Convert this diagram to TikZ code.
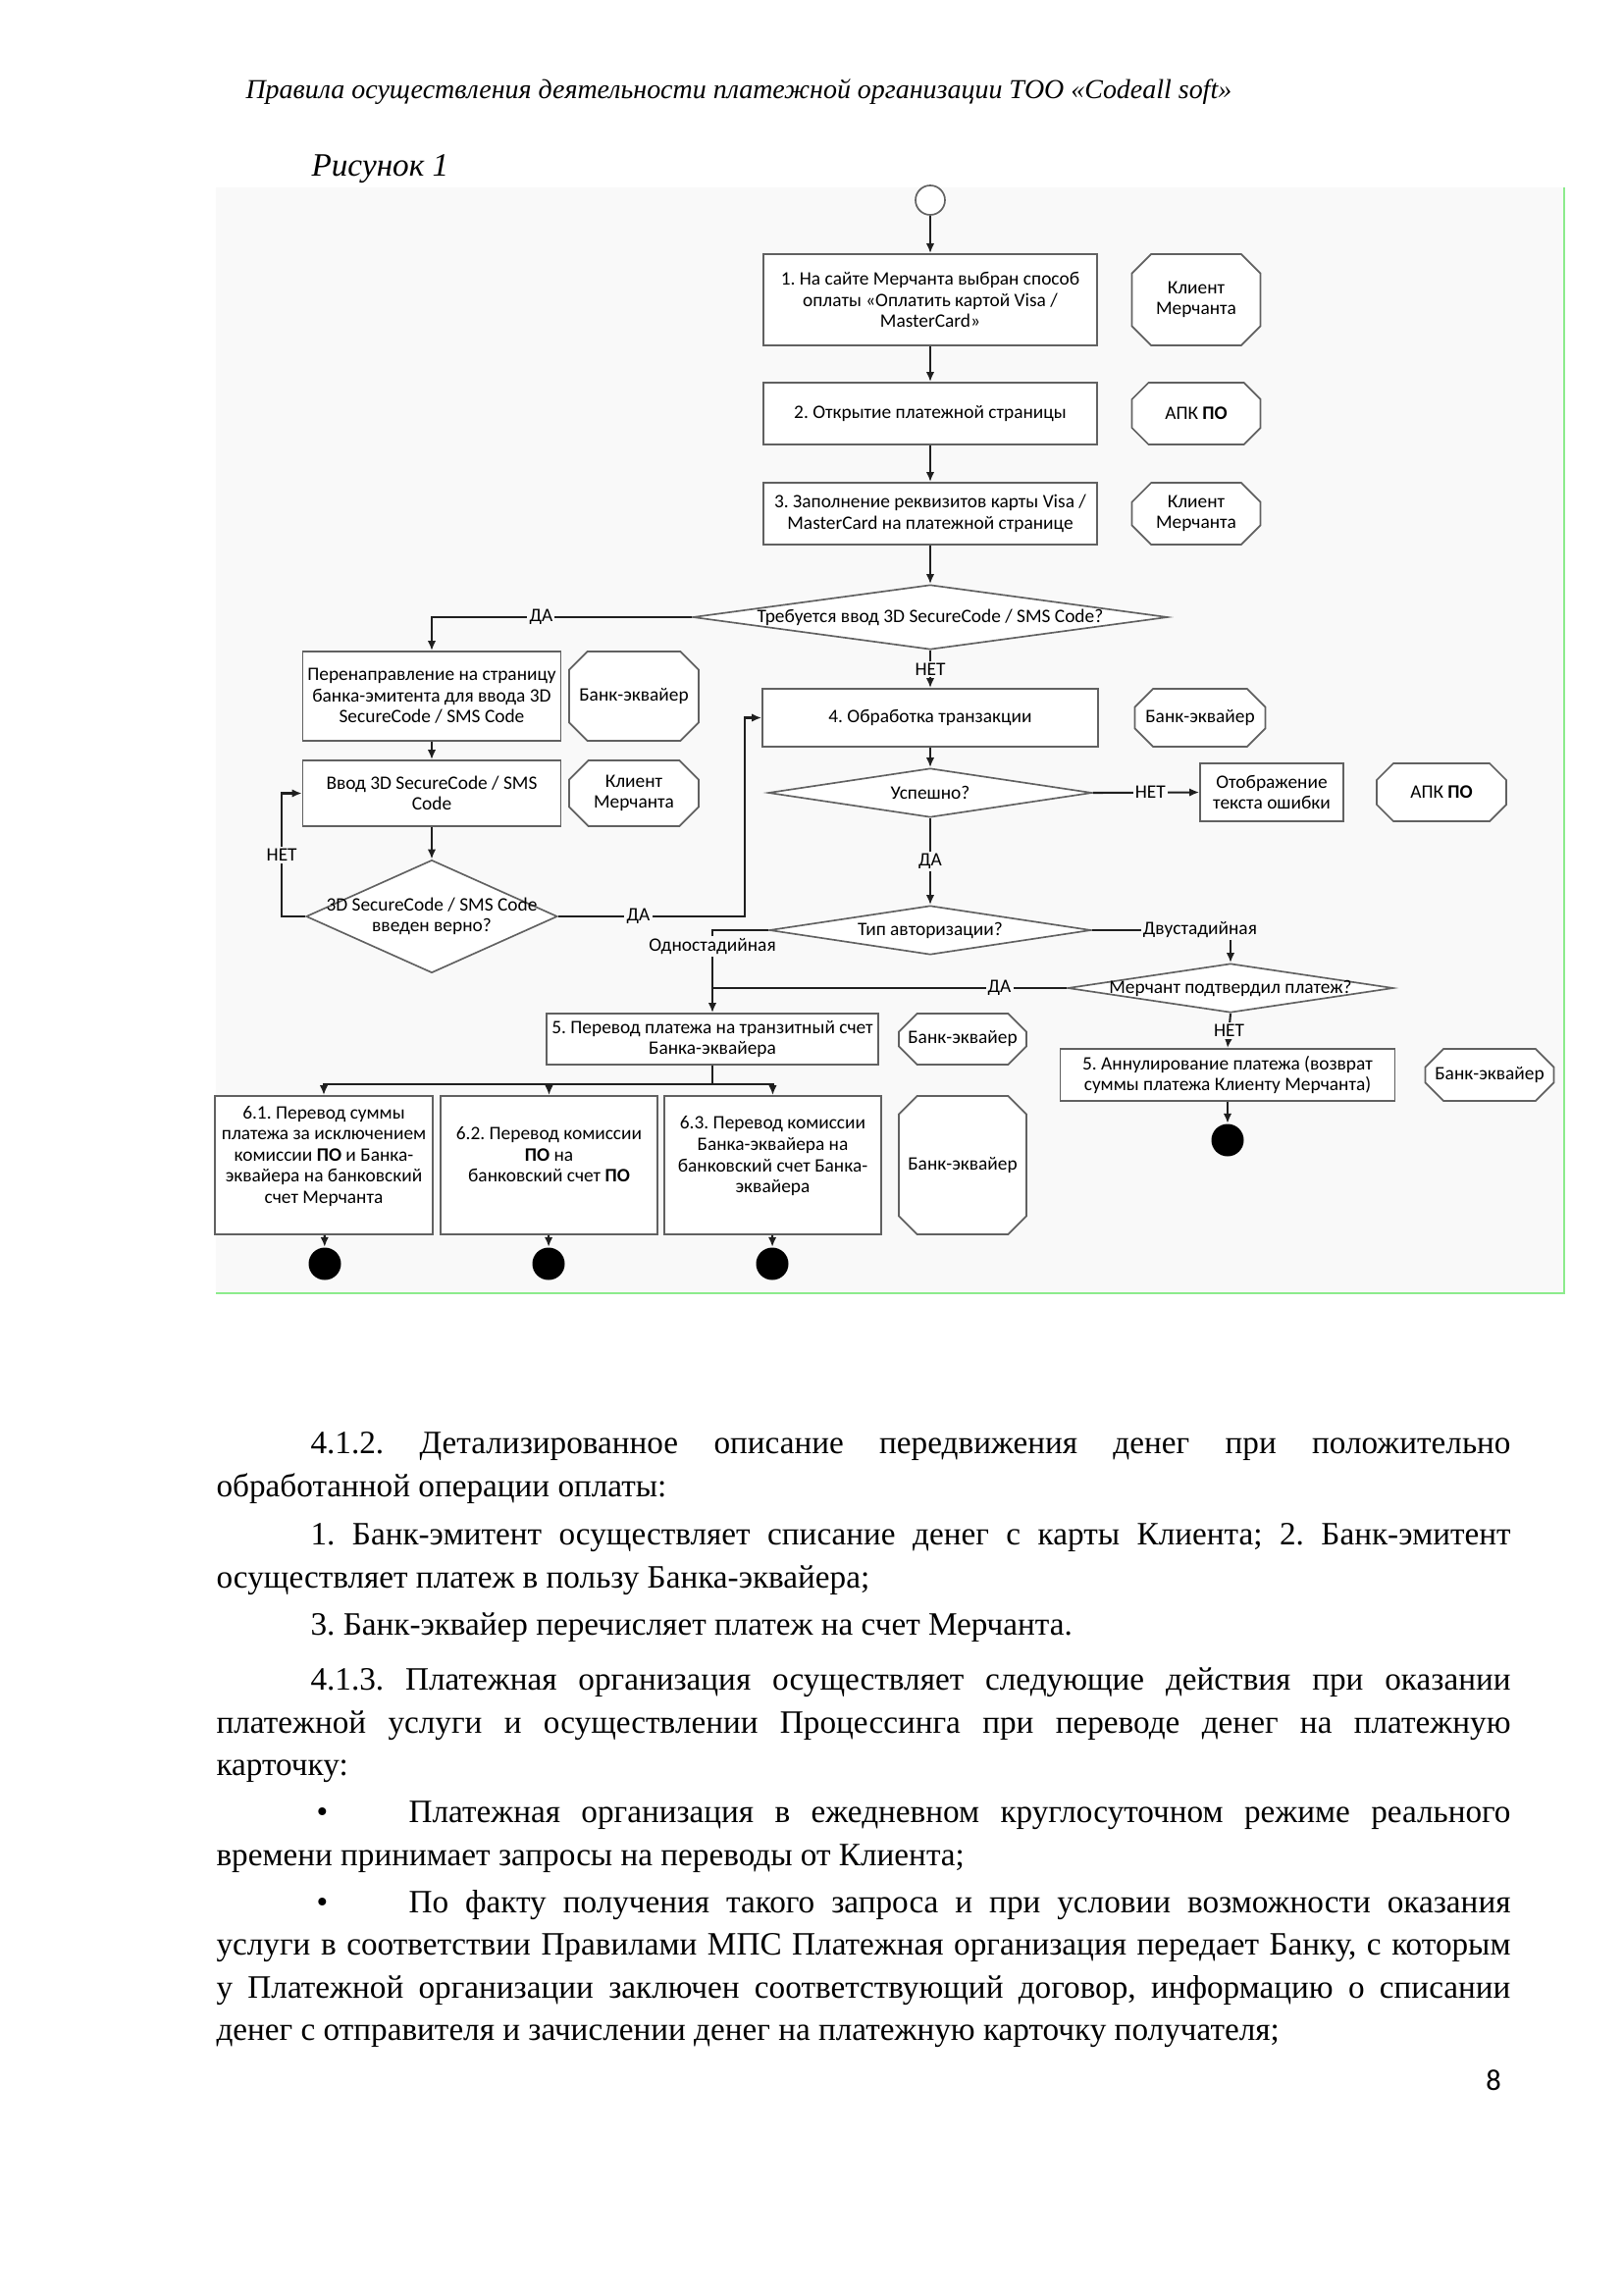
\documentclass[tikz,border=0pt]{standalone}
\usepackage{fontspec}
\setmainfont{Liberation Serif}
\newfontfamily\diagfont{Carlito}
\usetikzlibrary{arrows.meta,shapes.geometric,shapes.misc}
\definecolor{LineClr}{rgb}{0.12,0.12,0.12}
\definecolor{BoxClr}{rgb}{0.38,0.38,0.38}
\definecolor{DiagBg}{rgb}{0.975,0.975,0.975}
\definecolor{EdgeClr}{rgb}{0.55,0.92,0.55}
\newlength{\pxu}
\setlength{\pxu}{0.12697mm}
\frenchspacing

\begin{document}
\begin{tikzpicture}[x=0.12697mm,y=-0.12697mm,
  dtext/.style={font=\diagfont\fontsize{7}{7.8}\selectfont,align=center},
  stepbox/.style={rectangle,draw=BoxClr,line width=0.6pt,fill=white,dtext,inner sep=0pt},
  role/.style={chamfered rectangle,chamfered rectangle xsep=3.3pt,chamfered rectangle ysep=3.8pt,
    draw=BoxClr,line width=0.6pt,fill=white,dtext,inner sep=0pt},
  decide/.style={diamond,draw=BoxClr,line width=0.6pt,fill=white,inner sep=0pt},
  qtext/.style={dtext,inner sep=0pt},
  flow/.style={draw=LineClr,line width=0.75pt,-{Latex[length=3.6pt,width=3pt]}},
  link/.style={draw=LineClr,line width=0.75pt},
  lbl/.style={dtext,fill=DiagBg,inner sep=0.8pt},
  bodyline/.style={anchor=base west,inner sep=0pt,font=\fontsize{12}{14}\selectfont},
  finish/.style={circle,fill=black,inner sep=0pt,minimum size=33*\pxu}]

\useasboundingbox (0,0) rectangle (1654,2339);

% Page head and caption.
\node[bodyline,font=\itshape\fontsize{10.1}{12}\selectfont] (head) at (250,101)
  {Правила осуществления деятельности платежной организации ТОО «Codeall soft»};
\node[bodyline,font=\itshape\fontsize{12}{14}\selectfont] (caption) at (317,180) {Рисунок 1};

% Background of the figure.
\fill[DiagBg] (220,191) rectangle (1594,1318);
\draw[EdgeClr,line width=0.8pt] (1594,191) -- (1594,1318) -- (220,1318);

% Main column.
\node[circle,draw=BoxClr,line width=0.6pt,fill=white,minimum size=30*\pxu,inner sep=0pt] (start) at (948,204) {};
\node[stepbox,minimum width=340*\pxu,minimum height=93*\pxu] (s1) at (948,305.5)
  {1. На сайте Мерчанта выбран способ\\оплаты «Оплатить картой Visa /\\MasterCard»};
\node[stepbox,minimum width=340*\pxu,minimum height=63*\pxu] (s2) at (948,421.5)
  {2. Открытие платежной страницы};
\node[stepbox,minimum width=340*\pxu,minimum height=63*\pxu] (s3) at (948,523.5)
  {3. Заполнение реквизитов карты Visa /\\MasterCard на платежной странице};
\node[decide,minimum width=484*\pxu,minimum height=66*\pxu,
  label={[qtext]center:Требуется ввод 3D SecureCode / SMS Code?}] (q3d) at (948,629) {};
\node[stepbox,minimum width=342*\pxu,minimum height=59*\pxu] (s4) at (948,731.5)
  {4. Обработка транзакции};
\node[decide,minimum width=330*\pxu,minimum height=50*\pxu,
  label={[qtext]center:Успешно?}] (qOk) at (948,808) {};
\node[stepbox,minimum width=146*\pxu,minimum height=59*\pxu] (sErr) at (1296,807.5)
  {Отображение\\текста ошибки};
\node[decide,minimum width=328*\pxu,minimum height=50*\pxu,
  label={[qtext]center:Тип авторизации?}] (qType) at (948,948) {};
\node[decide,minimum width=332*\pxu,minimum height=50*\pxu,
  label={[qtext]center:Мерчант подтвердил платеж?}] (qConf) at (1254,1007) {};

% Left column: 3D SecureCode branch.
\node[stepbox,minimum width=263*\pxu,minimum height=91*\pxu] (sA) at (440,709.5)
  {Перенаправление на страницу\\банка-эмитента для ввода 3D\\SecureCode / SMS Code};
\node[stepbox,minimum width=263*\pxu,minimum height=67*\pxu] (sB) at (440,808.5)
  {Ввод 3D SecureCode / SMS\\Code};
\node[decide,minimum width=256*\pxu,minimum height=115*\pxu,
  label={[qtext]center:3D SecureCode / SMS Code\\введен верно?}] (qCode) at (440,934) {};

% Transfers.
\node[stepbox,minimum width=338*\pxu,minimum height=52*\pxu] (s5) at (726,1059)
  {5. Перевод платежа на транзитный счет\\Банка-эквайера};
\node[stepbox,minimum width=341*\pxu,minimum height=53*\pxu] (s5c) at (1251,1095.5)
  {5. Аннулирование платежа (возврат\\суммы платежа Клиенту Мерчанта)};
\node[stepbox,minimum width=222*\pxu,minimum height=141*\pxu] (s61) at (330,1187.5)
  {6.1. Перевод суммы\\платежа за исключением\\комиссии \textbf{ПО} и Банка-\\эквайера на банковский\\счет Мерчанта\\\mbox{}};
\node[stepbox,minimum width=221*\pxu,minimum height=141*\pxu] (s62) at (559.5,1187.5)
  {6.2. Перевод комиссии\\\textbf{ПО} на\\банковский счет \textbf{ПО}\\\mbox{}};
\node[stepbox,minimum width=221*\pxu,minimum height=141*\pxu] (s63) at (787.5,1187.5)
  {6.3. Перевод комиссии\\Банка-эквайера на\\банковский счет Банка-\\эквайера\\\mbox{}};

% End points.
\node[finish] (e5c) at (1251,1162) {};
\node[finish] (e61) at (331,1288) {};
\node[finish] (e62) at (559,1288) {};
\node[finish] (e63) at (787,1288) {};

% Roles.
\node[role,minimum width=131*\pxu,minimum height=93*\pxu] (r1) at (1219,305.5) {Клиент\\Мерчанта};
\node[role,minimum width=131*\pxu,minimum height=63*\pxu] (r2) at (1219,421.5) {АПК \textbf{ПО}};
\node[role,minimum width=131*\pxu,minimum height=63*\pxu] (r3) at (1219,523.5) {Клиент\\Мерчанта};
\node[role,minimum width=132*\pxu,minimum height=91*\pxu] (rA) at (646,709.5) {Банк-эквайер};
\node[role,minimum width=132*\pxu,minimum height=67*\pxu] (rB) at (646,808.5) {Клиент\\Мерчанта};
\node[role,minimum width=133*\pxu,minimum height=59*\pxu] (r4) at (1223,731.5) {Банк-эквайер};
\node[role,minimum width=132*\pxu,minimum height=59*\pxu] (rErr) at (1469,807.5) {АПК \textbf{ПО}};
\node[role,minimum width=130*\pxu,minimum height=52*\pxu] (r5) at (981,1059) {Банк-эквайер};
\node[role,minimum width=131*\pxu,minimum height=53*\pxu] (r5c) at (1518,1095.5) {Банк-эквайер};
\node[role,minimum width=130*\pxu,minimum height=141*\pxu] (r6) at (981,1187.5) {Банк-эквайер};

% Connectors.
\draw[flow] (start) -- (s1);
\draw[flow] (s1) -- (s2);
\draw[flow] (s2) -- (s3);
\draw[flow] (s3) -- (q3d);
\draw[flow] (q3d.west) -| node[lbl,pos=0.29]{ДА} (sA.north);
\draw[flow] (q3d.south) -- node[lbl]{НЕТ} (s4.north);
\draw[flow] (sA) -- (sB);
\draw[flow] (sB) -- (qCode.north);
\draw[flow] (qCode.west) -- ++(-24,0) |- node[lbl,pos=0.25]{НЕТ} (sB.west);
\draw[flow] (qCode.east) -- node[lbl,pos=0.43]{ДА} ++(190,0) |- (s4.west);
\draw[flow] (s4) -- (qOk.north);
\draw[flow] (qOk.east) -- node[lbl,pos=0.54]{НЕТ} (sErr.west);
\draw[flow] (qOk.south) -- node[lbl]{ДА} (qType.north);
\draw[flow] (qType.west) -| node[lbl,pos=0.6]{Одностадийная} (s5.north);
\draw[flow] (qType.east) -| node[lbl,pos=0.39]{Двустадийная} (qConf.north);
\draw[link] (qConf.west) -- node[lbl,pos=0.19]{ДА} (qConf.west -| s5.north);
\draw[flow] (qConf.south) -- node[lbl]{НЕТ} (s5c.north);
\draw[flow] (s5c) -- (e5c);
\draw[flow] (s5.south) -- ++(0,19) -| (s61.north);
\draw[flow] (s5.south) -- ++(0,19) -| (s62.north);
\draw[flow] (s5.south) -- ++(0,19) -| (s63.north);
\draw[flow] (s61) -- (e61);
\draw[flow] (s62) -- (e62);
\draw[flow] (s63) -- (e63);

% Body text below the figure.
\node[bodyline] (p1a) at (316,1481) {\makebox[1223\pxu][s]{4.1.2. Детализированное описание передвижения денег при положительно}};
\node[bodyline] (p1b) at (220,1525) {обработанной операции оплаты:};
\node[bodyline] (p2a) at (316,1574) {\makebox[1223\pxu][s]{1. Банк-эмитент осуществляет списание денег с карты Клиента; 2. Банк-эмитент}};
\node[bodyline] (p2b) at (220,1618) {осуществляет платеж в пользу Банка-эквайера;};
\node[bodyline] (p3) at (316,1666) {3. Банк-эквайер перечисляет платеж на счет Мерчанта.};
\node[bodyline] (p4a) at (316,1722) {\makebox[1223\pxu][s]{4.1.3. Платежная организация осуществляет следующие действия при оказании}};
\node[bodyline] (p4b) at (220,1766) {\makebox[1319\pxu][s]{платежной услуги и осуществлении Процессинга при переводе денег на платежную}};
\node[bodyline] (p4c) at (220,1809) {карточку:};
\node[bodyline] (b1) at (322,1857) {•};
\node[bodyline] (p5a) at (416,1857) {\makebox[1123\pxu][s]{Платежная организация в ежедневном круглосуточном режиме реального}};
\node[bodyline] (p5b) at (220,1901) {времени принимает запросы на переводы от Клиента;};
\node[bodyline] (b2) at (322,1949) {•};
\node[bodyline] (p6a) at (416,1949) {\makebox[1123\pxu][s]{По факту получения такого запроса и при условии возможности оказания}};
\node[bodyline] (p6b) at (220,1992) {\makebox[1319\pxu][s]{услуги в соответствии Правилами МПС Платежная организация передает Банку, с которым}};
\node[bodyline] (p6c) at (220,2036) {\makebox[1319\pxu][s]{у Платежной организации заключен соответствующий договор, информацию о списании}};
\node[bodyline] (p6d) at (220,2079) {денег с отправителя и зачислении денег на платежную карточку получателя;};

% Page number.
\node[font=\diagfont\fontsize{11}{13}\selectfont,inner sep=0pt] (pagenum) at (1522,2120) {8};

\end{tikzpicture}
\end{document}
